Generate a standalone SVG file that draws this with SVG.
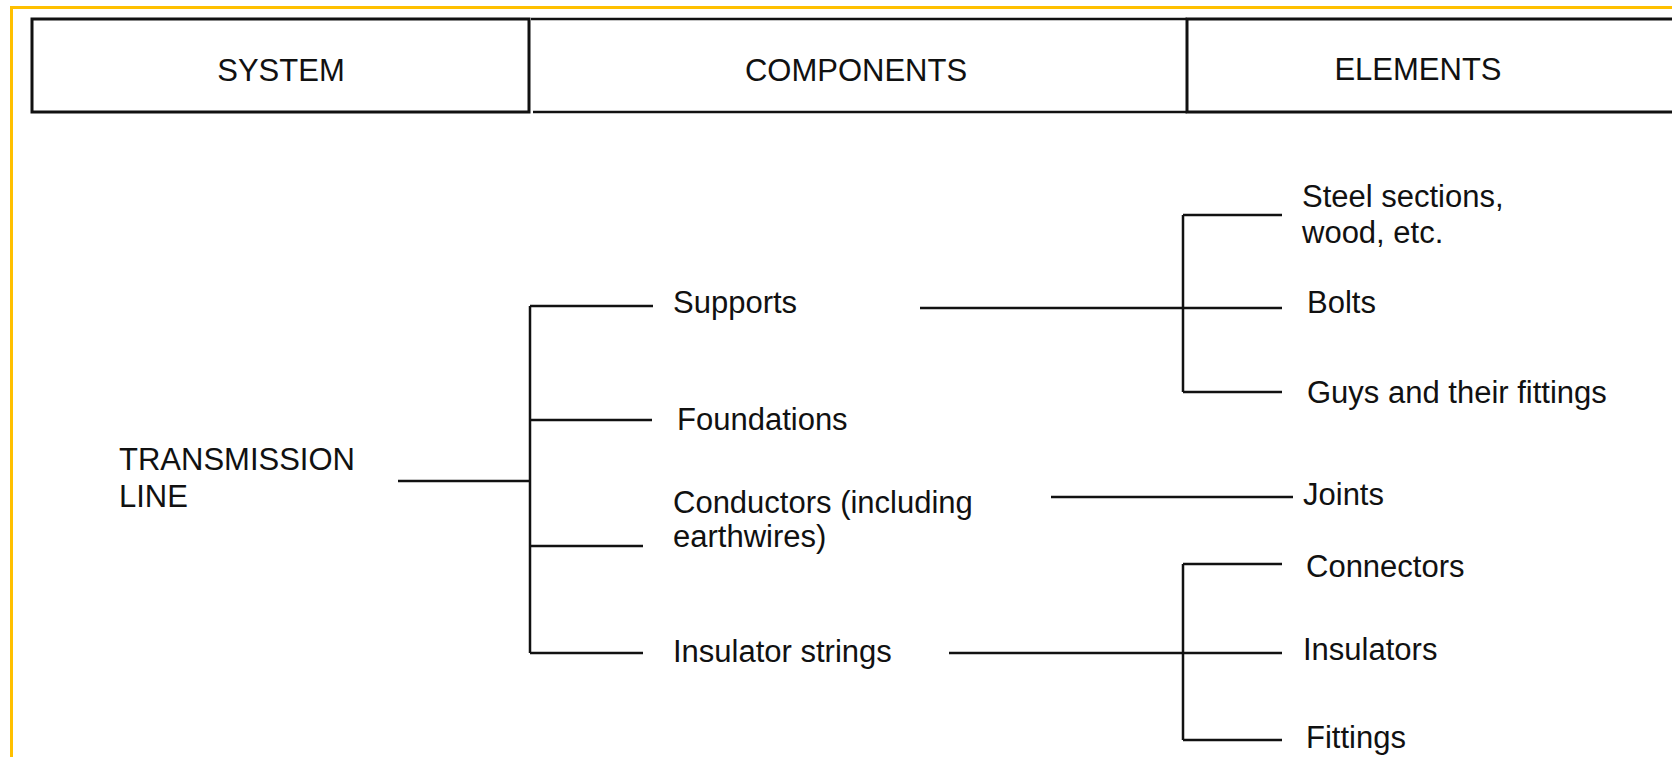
<svg xmlns="http://www.w3.org/2000/svg" width="1672" height="757" viewBox="0 0 1672 757">
<style>
text{font-family:"Liberation Sans",Arial,sans-serif;font-size:31px;fill:#111}
.h{text-anchor:middle}
.ln{stroke:#111;stroke-width:2.5;fill:none}
.hb{stroke:#111;stroke-width:3;fill:#fff}
</style>
<rect x="0" y="0" width="1672" height="757" fill="#fff"/>
<rect x="11.5" y="7.5" width="1700" height="800" fill="none" stroke="#FFC000" stroke-width="3"/>
<g id="header-system"><rect class="hb" x="32" y="19" width="497" height="93"/><text class="h" x="281" y="81">SYSTEM</text></g>
<g id="header-components"><path class="ln" stroke-width="3" d="M531 19H1187M533 112H1187"/><text class="h" x="856" y="81">COMPONENTS</text></g>
<g id="header-elements"><rect class="hb" x="1187" y="19" width="520" height="93"/><text class="h" x="1418" y="80">ELEMENTS</text></g>
<g id="connectors">
<path class="ln" d="M398 481H530M530 306V653M530 306H653M530 420H652M530 546H643M530 653H643"/>
<path class="ln" d="M920 308H1282M1183 215V392M1183 215H1282M1183 392H1282"/>
<path class="ln" d="M1051 497H1293"/>
<path class="ln" d="M949 653H1282M1183 564V740M1183 564H1282M1183 740H1282"/>
</g>
<g id="transmission-line"><text x="119" y="470">TRANSMISSION</text><text x="119" y="507">LINE</text></g>
<g id="supports"><text x="673" y="313">Supports</text></g>
<g id="foundations"><text x="677" y="430">Foundations</text></g>
<g id="conductors"><text x="673" y="513">Conductors (including</text><text x="673" y="547">earthwires)</text></g>
<g id="insulator-strings"><text x="673" y="662">Insulator strings</text></g>
<g id="steel"><text x="1302" y="207">Steel sections,</text><text x="1302" y="243">wood, etc.</text></g>
<g id="bolts"><text x="1307" y="313">Bolts</text></g>
<g id="guys"><text x="1307" y="403">Guys and their fittings</text></g>
<g id="joints"><text x="1303" y="505">Joints</text></g>
<g id="connectors-el"><text x="1306" y="577">Connectors</text></g>
<g id="insulators"><text x="1303" y="660">Insulators</text></g>
<g id="fittings"><text x="1306" y="748">Fittings</text></g>
</svg>
